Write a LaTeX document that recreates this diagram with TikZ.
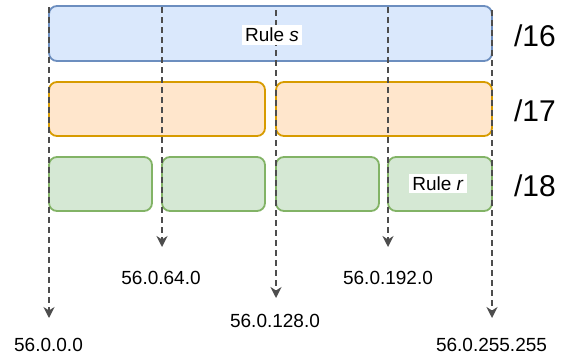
\documentclass[tikz,border=0pt]{standalone}
\usepackage{fontspec}
\setmainfont{Liberation Sans}
\usetikzlibrary{arrows.meta}
\definecolor{bluefill}{HTML}{DAE8FC}
\definecolor{bluedraw}{HTML}{6C8EBF}
\definecolor{orangefill}{HTML}{FFE6CC}
\definecolor{orangedraw}{HTML}{D79B00}
\definecolor{greenfill}{HTML}{D5E8D4}
\definecolor{greendraw}{HTML}{82B366}
\definecolor{dashgray}{HTML}{4D4D4D}
\tikzset{
  blockbase/.style={line width=1.8pt, rounded corners=8pt},
  p16/.style={blockbase, fill=bluefill, draw=bluedraw},
  p17/.style={blockbase, fill=orangefill, draw=orangedraw},
  p18/.style={blockbase, fill=greenfill, draw=greendraw},
  bound/.style={draw=dashgray, line width=1.7pt, dash pattern=on 6pt off 4pt,
    -{Stealth[length=11pt,width=11pt,inset=3.5pt]}},
  addr/.style={font=\fontsize{19}{22}\selectfont, inner sep=0pt},
  rulelbl/.style={fill=white, font=\fontsize{19}{22}\selectfont, inner sep=3pt},
  lenlbl/.style={font=\fontsize{30}{34}\selectfont, inner sep=0pt}
}
\begin{document}
\begin{tikzpicture}[x=1pt, y=-1pt]
\useasboundingbox (0,0) rectangle (569,356);
% /16 block
\path[p16] (49,6) rectangle (492,61);
% /17 blocks
\path[p17] (49,82) rectangle (265,136);
\path[p17] (276,82) rectangle (492,136);
% /18 blocks
\path[p18] (49,157) rectangle (152,211);
\path[p18] (162,157) rectangle (265,211);
\path[p18] (276,157) rectangle (379,211);
\path[p18] (388,157) rectangle (492,211);
% address boundaries
\coordinate (t0) at (49,7);    \coordinate (e0) at (49,318);
\coordinate (t1) at (162,7);   \coordinate (e1) at (162,247);
\coordinate (t2) at (276,10);  \coordinate (e2) at (276,298);
\coordinate (t3) at (388,7);   \coordinate (e3) at (388,247);
\coordinate (t4) at (492,10);  \coordinate (e4) at (492,318);
\draw[bound] (t0) -- (e0);
\draw[bound] (t1) -- (e1);
\draw[bound] (t2) -- (e2);
\draw[bound] (t3) -- (e3);
\draw[bound] (t4) -- (e4);
% rule labels
\node[rulelbl] (rs) at (272,35) {Rule \textit{s}};
\node[rulelbl] (rr) at (438,183.5) {Rule \textit{r}};
% prefix lengths
\node[lenlbl] (l16) at (535,36) {/16};
\node[lenlbl] (l17) at (535,111) {/17};
\node[lenlbl] (l18) at (535,186) {/18};
% addresses
\node[addr] (a0) at (48.5,344.5) {56.0.0.0};
\node[addr] (a1) at (161,277.5) {56.0.64.0};
\node[addr] (a2) at (275,320.5) {56.0.128.0};
\node[addr] (a3) at (388,277.5) {56.0.192.0};
\node[addr] (a4) at (491.5,344.5) {56.0.255.255};
\end{tikzpicture}
\end{document}
